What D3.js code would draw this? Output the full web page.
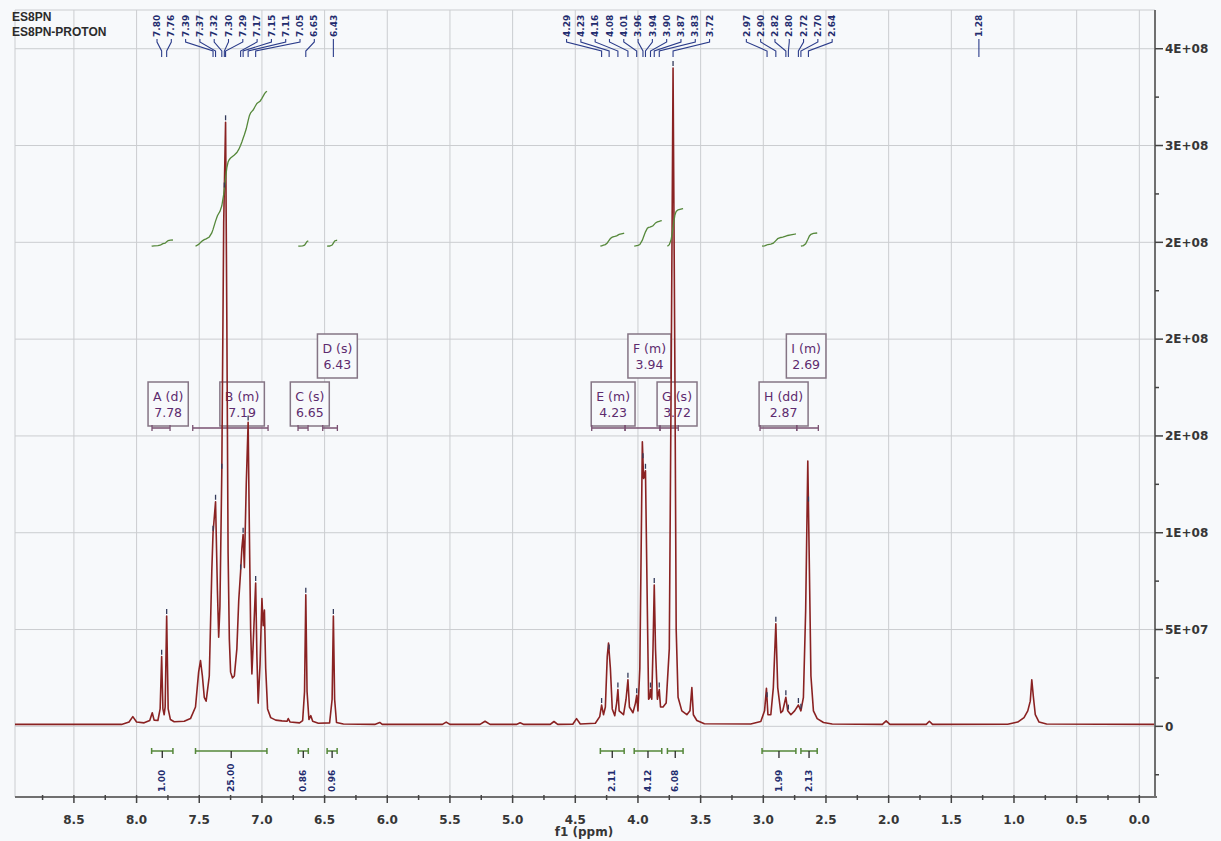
<!DOCTYPE html>
<html>
<head>
<meta charset="utf-8">
<script src="https://cdn.jsdelivr.net/npm/d3@7"></script>
<style>
body { margin: 0; background: #f7f9fb; }
svg { display: block; font-family: "DejaVu Sans", sans-serif; }
</style>
</head>
<body>
<div id="chart"></div>
<script>
var svgWidth = 1221;
var svgHeight = 841;
var plot = { left: 15, right: 1155, top: 10, bottom: 797 };

var titleLines = ["ES8PN", "ES8PN-PROTON"];

// spectrum: [ppm, intensity in millions]
var spectrum = [
  [8.97,1.0],[8.12,1.0],[8.06,2.2],[8.03,5],[8.00,2.2],[7.94,1.8],[7.895,3],[7.875,7],[7.86,3.2],[7.83,3],
  [7.812,9],[7.80,36],[7.79,9],[7.78,6],[7.772,10],[7.76,57],[7.748,9],[7.73,3.5],[7.70,2.4],[7.62,2.6],
  [7.57,4],[7.53,10],[7.505,28],[7.49,34],[7.475,26],[7.46,15],[7.445,13],[7.42,26],[7.40,80],[7.39,100],
  [7.37,116],[7.355,70],[7.345,46],[7.335,62],[7.32,132],[7.305,260],[7.29,312],[7.28,210],[7.27,90],
  [7.26,45],[7.25,28],[7.235,25],[7.22,26],[7.20,40],[7.185,65],[7.17,80],[7.16,92],[7.15,99],[7.14,82],
  [7.125,125],[7.11,157],[7.10,100],[7.09,50],[7.08,27],[7.07,42],[7.05,74],[7.04,36],[7.03,12],[7.015,32],
  [7.00,66],[6.99,52],[6.98,60],[6.97,30],[6.955,9],[6.93,4.5],[6.89,3.2],[6.84,2.8],[6.80,2.6],[6.79,4],
  [6.775,2.2],[6.70,1.8],[6.675,3],[6.66,18],[6.65,68],[6.64,18],[6.625,3.5],[6.61,5.5],[6.595,2.6],
  [6.55,1.6],[6.46,1.8],[6.44,14],[6.43,57],[6.42,14],[6.405,2],[6.35,1.2],[6.10,1.0],[6.06,2.0],[6.04,1.0],
  [5.56,1],[5.53,2.2],[5.50,1],[5.26,1],[5.22,2.6],[5.18,1],[4.97,1],[4.94,1.8],[4.91,1],[4.70,1],
  [4.67,2.5],[4.64,1],[4.52,1.1],[4.49,4],[4.46,1.2],[4.34,1.6],[4.305,5],[4.29,11],[4.275,6],[4.26,10],
  [4.245,36],[4.235,43],[4.22,30],[4.205,9],[4.185,5.5],[4.17,12],[4.16,19],[4.15,8],[4.115,6],[4.095,14],
  [4.08,24],[4.068,10],[4.04,7],[4.02,12],[4.01,16],[4.00,8],[3.985,30],[3.965,147],[3.955,128],[3.94,132],
  [3.925,60],[3.915,14],[3.905,15],[3.90,19],[3.89,14],[3.88,40],[3.87,73],[3.86,40],[3.845,14],[3.83,19],
  [3.82,10],[3.80,10],[3.775,12],[3.75,40],[3.735,180],[3.72,340],[3.705,180],[3.695,50],[3.68,15],[3.65,8],
  [3.61,6],[3.585,8],[3.57,20],[3.558,6],[3.53,3],[3.47,1.3],[3.10,1.2],[3.02,2.5],[2.99,8],[2.975,19.6],
  [2.963,6],[2.94,6],[2.92,20],[2.90,53],[2.885,20],[2.86,7],[2.845,8],[2.82,15],[2.805,8],[2.78,6],
  [2.75,8],[2.72,11],[2.70,8],[2.68,15],[2.662,60],[2.645,137],[2.632,80],[2.62,26],[2.60,8],[2.57,4],
  [2.52,2],[2.45,1.2],[2.05,1],[2.02,2.8],[1.99,1],[1.70,1],[1.675,2.6],[1.65,1],[1.05,1.1],[0.97,2.2],
  [0.92,4.5],[0.89,8],[0.87,13],[0.858,24],[0.845,15],[0.83,6],[0.80,2.2],[0.74,1.2],[-0.125,1.0]
];

var xTickValues = [8.5, 8.0, 7.5, 7.0, 6.5, 6.0, 5.5, 5.0, 4.5, 4.0, 3.5, 3.0, 2.5, 2.0, 1.5, 1.0, 0.5, 0.0];
var yTickValues = [0, 5e7, 1e8, 1.5e8, 2e8, 2.5e8, 3e8, 3.5e8];
var yTickLabels = ["0", "5E+07", "1E+08", "2E+08", "2E+08", "2E+08", "3E+08", "4E+08"];

// peak labels at the top, grouped as in the picture
var peakGroups = [
  [7.80, 7.76],
  [7.39, 7.37, 7.32, 7.30, 7.29, 7.17, 7.15, 7.11, 7.05, 6.65, 6.43],
  [4.29, 4.23, 4.16, 4.08, 4.01, 3.96, 3.94, 3.90, 3.87, 3.83, 3.72],
  [2.97, 2.90, 2.82, 2.80, 2.72, 2.70, 2.64],
  [1.28]
];

var multipletNames = ["A", "B", "C", "D", "E", "F", "G", "H", "I"];
var multipletTypes = ["d", "m", "s", "s", "m", "m", "s", "dd", "m"];
var multipletShifts = [7.78, 7.19, 6.65, 6.43, 4.23, 3.94, 3.72, 2.87, 2.69];
var multipletRanges = [[7.877, 7.733], [7.552, 6.951], [6.712, 6.632], [6.515, 6.398], [4.369, 4.103],
  [4.103, 3.824], [3.824, 3.678], [3.026, 2.733], [2.733, 2.561]];

var integralRanges = [[7.88, 7.71], [7.53, 6.96], [6.71, 6.63], [6.48, 6.40], [4.30, 4.11],
  [4.03, 3.81], [3.765, 3.64], [3.01, 2.74], [2.70, 2.57]];
var integralValues = [1.00, 25.00, 0.86, 0.96, 2.11, 4.12, 6.08, 1.99, 2.13];

var gridColor = "#cbcdd0";
var axisColor = "#707070";
var specColor = "#8a2222";
var intColor = "#55883a";
var labelColor = "#1f2c6e";
var boxColor = "#5d2b6e";

var svg = d3.select("#chart").append("svg")
    .attr("width", svgWidth)
    .attr("height", svgHeight);

var x = d3.scaleLinear().domain([8.97, -0.125]).range([plot.left, plot.right]);
var y = d3.scaleLinear().domain([-3.65e7, 3.70e8]).range([plot.bottom, plot.top]);

// grid
svg.append("g").selectAll("line.vg")
    .data(xTickValues)
    .enter().append("line")
    .attr("x1", function(d) { return x(d); })
    .attr("x2", function(d) { return x(d); })
    .attr("y1", plot.top)
    .attr("y2", plot.bottom)
    .attr("stroke", gridColor);

svg.append("g").selectAll("line.hg")
    .data(yTickValues)
    .enter().append("line")
    .attr("x1", plot.left)
    .attr("x2", plot.right)
    .attr("y1", function(d) { return y(d); })
    .attr("y2", function(d) { return y(d); })
    .attr("stroke", gridColor);

svg.append("path")
    .attr("d", "M" + plot.left + "," + plot.bottom + "V" + plot.top + "H" + plot.right)
    .attr("fill", "none")
    .attr("stroke", gridColor);

// title
svg.selectAll("text.title")
    .data(titleLines)
    .enter().append("text")
    .attr("x", 12)
    .attr("y", function(d, i) { return 21 + i * 15; })
    .style("font-family", "'Liberation Sans', Arial, sans-serif")
    .style("font-size", "12px")
    .style("font-weight", "bold")
    .attr("fill", "#2b2b2b")
    .text(function(d) { return d; });

// helper: intensity at a given ppm by linear interpolation between the read points
function valueAt(ppm) {
    for (var i = 1; i < spectrum.length; i++) {
        var a = spectrum[i - 1], b = spectrum[i];
        if (ppm <= a[0] && ppm >= b[0]) {
            var t = (a[0] - ppm) / (a[0] - b[0]);
            return (a[1] + t * (b[1] - a[1])) * 1e6;
        }
    }
    return spectrum[0][1] * 1e6;
}

// multiplet boxes (drawn under the spectrum)
var boxTop = [382, 334];
var boxH = 44;
var bracketY = 428;
var placed = [[], []];
var multG = svg.append("g");
multipletNames.forEach(function(name, i) {
    var line1 = name + " (" + multipletTypes[i] + ")";
    var line2 = multipletShifts[i].toFixed(2);
    var g = multG.append("g");
    var t1 = g.append("text").text(line1).style("font-size", "12.5px").attr("fill", boxColor).attr("text-anchor", "middle");
    var t2 = g.append("text").text(line2).style("font-size", "12.5px").attr("fill", boxColor).attr("text-anchor", "middle");
    var w = Math.max(t1.node().getComputedTextLength(), t2.node().getComputedTextLength()) + 10;
    var cx = x(multipletShifts[i]) + 4;
    var lo = cx - w / 2, hi = cx + w / 2;
    var row = 0;
    var clash = placed[0].some(function(p) { return lo < p[1] && hi > p[0]; });
    if (clash) row = 1;
    placed[row].push([lo, hi]);
    g.insert("rect", "text")
        .attr("x", lo).attr("y", boxTop[row])
        .attr("width", w).attr("height", boxH)
        .attr("fill", "#f7f9fb")
        .attr("stroke", "#857585")
        .attr("stroke-width", 1.5);
    t1.attr("x", cx).attr("y", boxTop[row] + 19);
    t2.attr("x", cx).attr("y", boxTop[row] + 35);

    var r = multipletRanges[i];
    multG.append("path")
        .attr("d", "M" + x(r[0]) + "," + (bracketY - 3) + "v6M" + x(r[0]) + "," + bracketY +
              "H" + x(r[1]) + "M" + x(r[1]) + "," + (bracketY - 3) + "v6")
        .attr("fill", "none")
        .attr("stroke", "#7a5272")
        .attr("stroke-width", 1.3);
});

// spectrum
var line = d3.line()
    .x(function(d) { return x(d[0]); })
    .y(function(d) { return y(d[1] * 1e6); });

svg.append("path")
    .datum(spectrum)
    .attr("d", line)
    .attr("fill", "none")
    .attr("stroke", specColor)
    .attr("stroke-width", 1.6)
    .attr("stroke-linejoin", "round");

// integral curves: cumulative area of the read spectrum, scaled to the integral value
var intBase = 2.48e8;
var intUnit = 3.2e6;
integralRanges.forEach(function(r, i) {
    var pts = [[r[0], valueAt(r[0])]];
    spectrum.forEach(function(p) {
        if (p[0] < r[0] && p[0] > r[1]) pts.push([p[0], p[1] * 1e6]);
    });
    pts.push([r[1], valueAt(r[1])]);
    var cum = [0];
    for (var k = 1; k < pts.length; k++) {
        cum.push(cum[k - 1] + (pts[k - 1][0] - pts[k][0]) * (pts[k - 1][1] + pts[k][1]) / 2);
    }
    var total = cum[cum.length - 1];
    var curve = pts.map(function(p, k) {
        return [p[0], intBase + cum[k] / total * integralValues[i] * intUnit];
    });
    svg.append("path")
        .datum(curve)
        .attr("d", d3.line().x(function(d) { return x(d[0]); }).y(function(d) { return y(d[1]); }))
        .attr("fill", "none")
        .attr("stroke", intColor)
        .attr("stroke-width", 1.3);

    // bracket and value under the baseline
    var bY = 751;
    var mid = (x(r[0]) + x(r[1])) / 2;
    svg.append("path")
        .attr("d", "M" + x(r[0]) + "," + (bY - 3) + "v6M" + x(r[0]) + "," + bY + "H" + x(r[1]) +
              "M" + x(r[1]) + "," + (bY - 3) + "v6")
        .attr("fill", "none")
        .attr("stroke", intColor)
        .attr("stroke-width", 1.5);
    svg.append("line")
        .attr("x1", mid).attr("x2", mid)
        .attr("y1", bY).attr("y2", bY + 7)
        .attr("stroke", "#2a2a2a")
        .attr("stroke-width", 1.3);
    svg.append("text")
        .attr("transform", "translate(" + mid + ",792) rotate(-90)")
        .attr("dy", "0.35em")
        .style("font-size", "9px")
        .style("font-weight", "bold")
        .attr("fill", labelColor)
        .text(integralValues[i].toFixed(2));
});

// peak labels on top: spread apart within each group, then keep groups from overlapping
var labelGap = 14.3;
var allLabels = [];
peakGroups.forEach(function(group) {
    var px = group.map(function(p) { return x(p); });
    var lx = px.slice();
    for (var it = 0; it < 400; it++) {
        for (var j = 1; j < lx.length; j++) {
            var d = lx[j] - lx[j - 1];
            if (d < labelGap) {
                var o = (labelGap - d) / 2;
                lx[j - 1] -= o;
                lx[j] += o;
            }
        }
    }
    group.forEach(function(p, j) {
        allLabels.push({ ppm: p, px: px[j], lx: lx[j] });
    });
});
for (var k = 1; k < allLabels.length; k++) {
    allLabels[k].lx = Math.max(allLabels[k].lx, allLabels[k - 1].lx + labelGap);
}

allLabels.forEach(function(l) {
    svg.append("text")
        .attr("transform", "translate(" + l.lx + ",37) rotate(-90)")
        .attr("dy", "0.35em")
        .style("font-size", "9px")
        .style("font-weight", "bold")
        .attr("fill", labelColor)
        .text(l.ppm.toFixed(2));
    svg.append("path")
        .attr("d", "M" + l.lx + ",39V42L" + l.px + ",51V57")
        .attr("fill", "none")
        .attr("stroke", "#2b3c8a")
        .attr("stroke-width", 1.1);
    var v = valueAt(l.ppm);
    if (v > 5e6) {
        svg.append("line")
            .attr("x1", l.px).attr("x2", l.px)
            .attr("y1", y(v) - 7).attr("y2", y(v) - 2)
            .attr("stroke", "#333a5a")
            .attr("stroke-width", 1.3);
    }
});

// x axis
var xAxisG = svg.append("g");
xAxisG.append("line")
    .attr("x1", plot.left).attr("x2", plot.right + 2)
    .attr("y1", plot.bottom).attr("y2", plot.bottom)
    .attr("stroke", axisColor).attr("stroke-width", 2);
xAxisG.selectAll("line.maj")
    .data(xTickValues)
    .enter().append("line")
    .attr("x1", function(d) { return x(d); }).attr("x2", function(d) { return x(d); })
    .attr("y1", plot.bottom - 2).attr("y2", plot.bottom + 6)
    .attr("stroke", "#444").attr("stroke-width", 1.5);
xAxisG.selectAll("line.min")
    .data(xTickValues.slice(0, -1).map(function(d) { return d - 0.25; }).concat([8.75]))
    .enter().append("line")
    .attr("x1", function(d) { return x(d); }).attr("x2", function(d) { return x(d); })
    .attr("y1", plot.bottom - 2).attr("y2", plot.bottom + 3)
    .attr("stroke", "#444").attr("stroke-width", 1.5);
xAxisG.selectAll("text")
    .data(xTickValues)
    .enter().append("text")
    .attr("x", function(d) { return x(d); })
    .attr("y", 824)
    .attr("text-anchor", "middle")
    .style("font-size", "12px")
    .style("font-weight", "bold")
    .attr("fill", "#363636")
    .text(function(d) { return d3.format(".1f")(d); });
svg.append("text")
    .attr("x", 584).attr("y", 836)
    .attr("text-anchor", "middle")
    .style("font-size", "12px")
    .style("font-weight", "bold")
    .attr("fill", "#363636")
    .text("f1 (ppm)");

// y axis on the right
var yAxisG = svg.append("g");
yAxisG.append("line")
    .attr("x1", plot.right).attr("x2", plot.right)
    .attr("y1", plot.top).attr("y2", plot.bottom)
    .attr("stroke", axisColor).attr("stroke-width", 2);
yAxisG.selectAll("line.maj")
    .data(yTickValues)
    .enter().append("line")
    .attr("x1", plot.right).attr("x2", plot.right + 8)
    .attr("y1", function(d) { return y(d); }).attr("y2", function(d) { return y(d); })
    .attr("stroke", "#444").attr("stroke-width", 1.5);
yAxisG.selectAll("line.min")
    .data(yTickValues.map(function(d) { return d - 2.5e7; }))
    .enter().append("line")
    .attr("x1", plot.right).attr("x2", plot.right + 4)
    .attr("y1", function(d) { return y(d); }).attr("y2", function(d) { return y(d); })
    .attr("stroke", "#444").attr("stroke-width", 1.5);
yAxisG.selectAll("text")
    .data(yTickValues)
    .enter().append("text")
    .attr("x", plot.right + 10)
    .attr("y", function(d) { return y(d); })
    .attr("dy", "0.35em")
    .style("font-size", "12px")
    .style("font-weight", "bold")
    .attr("fill", "#363636")
    .text(function(d, i) { return yTickLabels[i]; });
</script>
</body>
</html>
